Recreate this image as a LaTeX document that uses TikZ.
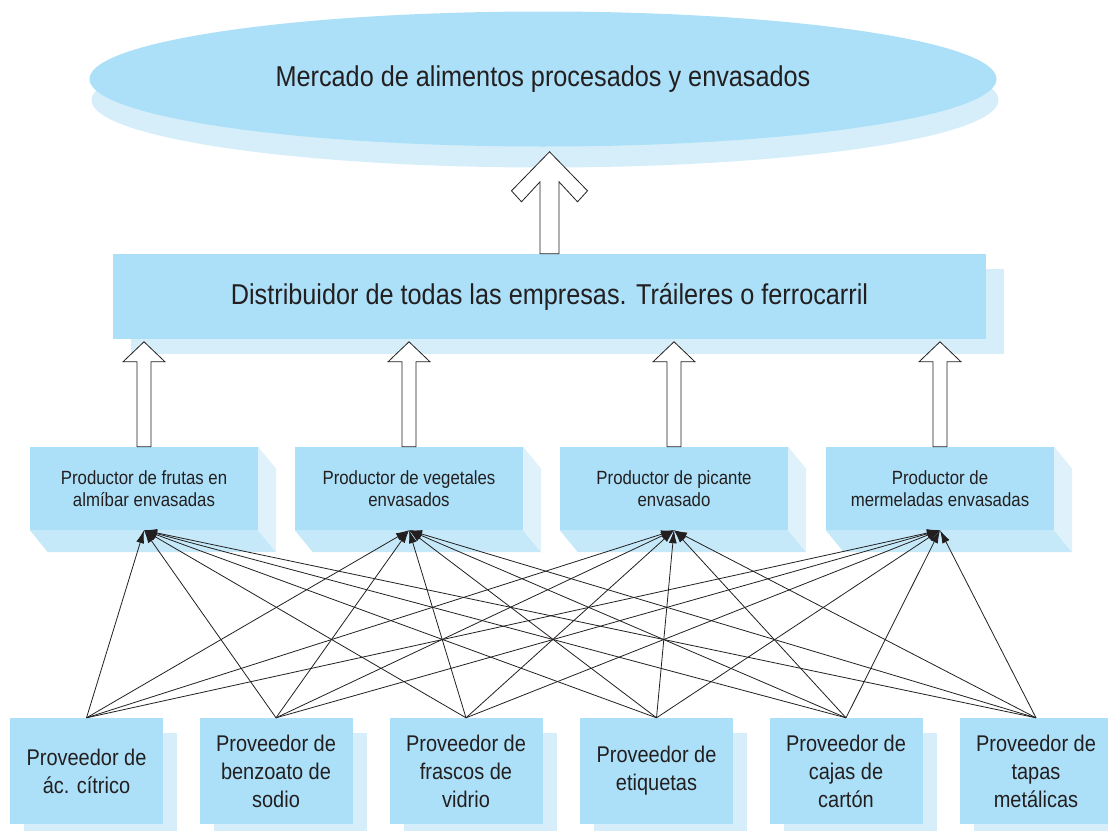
\documentclass[tikz,border=0pt]{standalone}
\usepackage{fontspec}
\setmainfont{Liberation Sans}[FakeStretch=0.88]
\usetikzlibrary{arrows.meta}
\usetikzlibrary{shapes.geometric}
\usetikzlibrary{shadows}

\definecolor{boxblue}{HTML}{ABE0F8}
\definecolor{shadeblue}{HTML}{D5EEFA}
\definecolor{floorblue}{HTML}{C6E9F9}
\definecolor{wallblue}{HTML}{DFF2FB}
\definecolor{inkgray}{HTML}{231F20}

\begin{document}
\begin{tikzpicture}[
    x=1pt, y=-1pt,
    every node/.style={
        fill=boxblue,
        text=inkgray,
        inner sep=2pt,
        align=center
    },
    market/.style={
        ellipse,
        minimum width=907pt,
        minimum height=135pt,
        font=\fontsize{28.7}{33}\selectfont,
        drop shadow={shadow xshift=2pt, shadow yshift=-21pt, fill=shadeblue, opacity=1}
    },
    distbox/.style={
        minimum width=873pt,
        minimum height=85pt,
        font=\fontsize{28.7}{33}\selectfont,
        drop shadow={shadow xshift=18pt, shadow yshift=-15pt, fill=shadeblue, opacity=1}
    },
    prodbox/.style={
        minimum width=228pt,
        minimum height=83pt,
        font=\fontsize{19.1}{22}\selectfont
    },
    supbox/.style={
        minimum width=153pt,
        minimum height=106pt,
        font=\fontsize{22.7}{28}\selectfont,
        drop shadow={shadow xshift=14pt, shadow yshift=-15pt, fill=shadeblue, opacity=1}
    },
    blockarrow/.style={draw=inkgray, fill=white, line width=0.8pt},
    feed/.style={-{Latex[length=13pt,width=8pt]}, draw=inkgray, line width=0.8pt}
]

\useasboundingbox (0,0) rectangle (1108,830);

%---------------------------------
% Nodes
%---------------------------------

% Market
\node[market] (mkt) at (543,79) {Mercado de alimentos procesados y envasados};

% Distributor
\node[distbox] (dist) at (549.5,296.5) {Distribuidor de todas las empresas. Tráileres o ferrocarril};

% Producers
\node[prodbox] (p1) at (144,488.5) {Productor de frutas en\\almíbar envasadas};
\node[prodbox] (p2) at (409,488.5) {Productor de vegetales\\envasados};
\node[prodbox] (p3) at (674,488.5) {Productor de picante\\envasado};
\node[prodbox] (p4) at (940,488.5) {Productor de\\mermeladas envasadas};

% 3D faces of the producers
\foreach \p in {p1,p2,p3,p4} {
    \fill[floorblue] (\p.south west) -- (\p.south east)
        -- ([shift={(18,22)}]\p.south east) -- ([shift={(18,22)}]\p.south west) -- cycle;
    \fill[wallblue] (\p.north east) -- ([shift={(18,22)}]\p.north east)
        -- ([shift={(18,22)}]\p.south east) -- (\p.south east) -- cycle;
}

% Suppliers
\node[supbox] (s1) at (86.5,771) {Proveedor de\\ác. cítrico};
\node[supbox] (s2) at (276,771) {Proveedor de\\benzoato de\\sodio};
\node[supbox] (s3) at (466,771) {Proveedor de\\frascos de\\vidrio};
\node[supbox] (s4) at (656.5,771) {Proveedor de\\etiquetas};
\node[supbox] (s5) at (846,771) {Proveedor de\\cajas de\\cartón};
\node[supbox] (s6) at (1036,771) {Proveedor de\\tapas\\metálicas};

%---------------------------------
% Block arrows
%---------------------------------

% Distributor to market
\draw[blockarrow] ([xshift=-9.5pt]dist.north) -- ++(0,-72) -- ++(-18.5,20) -- ++(-10,-11)
    -- ++(38,-39) -- ++(38,39) -- ++(-10,11) -- ++(-18.5,-20) -- ++(0,72) -- cycle;

% Producers to distributor
\draw[blockarrow] ([xshift=-7pt]p1.north) -- ++(0,-85) -- ++(-14,0) -- ++(21,-20)
    -- ++(21,20) -- ++(-14,0) -- ++(0,85) -- cycle;
\draw[blockarrow] ([xshift=-7pt]p2.north) -- ++(0,-85) -- ++(-14,0) -- ++(21,-20)
    -- ++(21,20) -- ++(-14,0) -- ++(0,85) -- cycle;
\draw[blockarrow] ([xshift=-7pt]p3.north) -- ++(0,-85) -- ++(-14,0) -- ++(21,-20)
    -- ++(21,20) -- ++(-14,0) -- ++(0,85) -- cycle;
\draw[blockarrow] ([xshift=-7pt]p4.north) -- ++(0,-85) -- ++(-14,0) -- ++(21,-20)
    -- ++(21,20) -- ++(-14,0) -- ++(0,85) -- cycle;

%---------------------------------
% Arrows: every supplier to every producer
%---------------------------------

% From s1
\draw[feed] (s1.north) -- (p1.south);
\draw[feed] (s1.north) -- (p2.south);
\draw[feed] (s1.north) -- (p3.south);
\draw[feed] (s1.north) -- (p4.south);

% From s2
\draw[feed] (s2.north) -- (p1.south);
\draw[feed] (s2.north) -- (p2.south);
\draw[feed] (s2.north) -- (p3.south);
\draw[feed] (s2.north) -- (p4.south);

% From s3
\draw[feed] (s3.north) -- (p1.south);
\draw[feed] (s3.north) -- (p2.south);
\draw[feed] (s3.north) -- (p3.south);
\draw[feed] (s3.north) -- (p4.south);

% From s4
\draw[feed] (s4.north) -- (p1.south);
\draw[feed] (s4.north) -- (p2.south);
\draw[feed] (s4.north) -- (p3.south);
\draw[feed] (s4.north) -- (p4.south);

% From s5
\draw[feed] (s5.north) -- (p1.south);
\draw[feed] (s5.north) -- (p2.south);
\draw[feed] (s5.north) -- (p3.south);
\draw[feed] (s5.north) -- (p4.south);

% From s6
\draw[feed] (s6.north) -- (p1.south);
\draw[feed] (s6.north) -- (p2.south);
\draw[feed] (s6.north) -- (p3.south);
\draw[feed] (s6.north) -- (p4.south);

\end{tikzpicture}
\end{document}
